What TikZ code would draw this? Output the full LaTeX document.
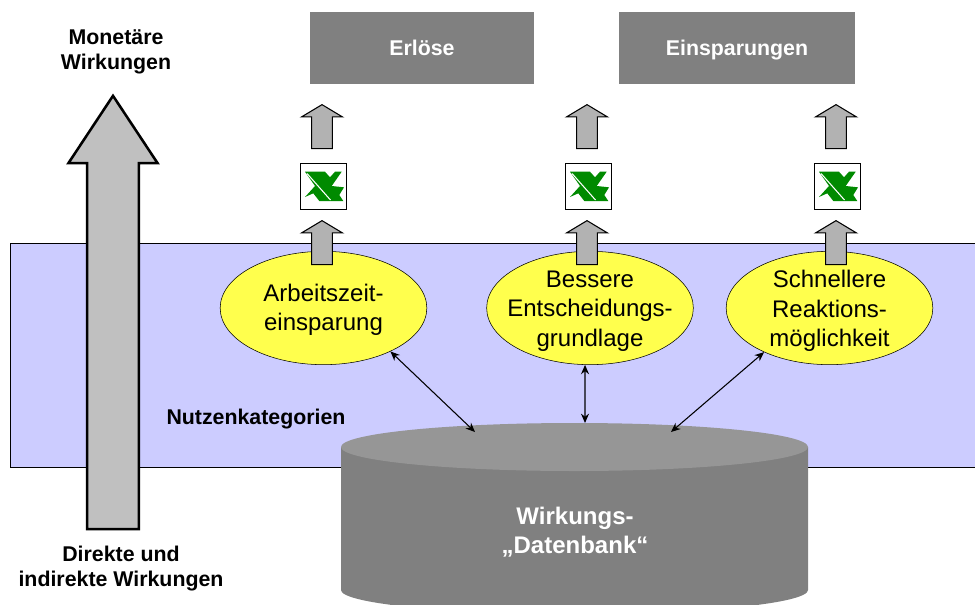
\documentclass[tikz,border=0pt]{standalone}
\usepackage{fontspec}
\setmainfont{Liberation Sans}
\usetikzlibrary{shapes.geometric,shapes.arrows,arrows.meta}
\definecolor{bandblue}{HTML}{CCCCFF}
\definecolor{boxgray}{HTML}{808080}
\definecolor{dbtopgray}{HTML}{969696}
\definecolor{arrowgray}{HTML}{B2B2B2}
\definecolor{biggray}{HTML}{C0C0C0}
\definecolor{ellyellow}{HTML}{FFFF4D}
\definecolor{excelgreen}{HTML}{008A00}

\begin{document}
\begin{tikzpicture}[
        x=0.75pt, y=-0.75pt,
        boxlabel/.style={
            fill=boxgray,
            text=white,
            minimum height=54pt, % 72 px in the source
            inner sep=0pt,
            text height=12pt,
            text depth=3pt,
            font=\fontsize{16}{19.5}\selectfont\bfseries
        },
        boldlabel/.style={
            align=center,
            inner sep=0pt,
            font=\fontsize{16}{19}\selectfont\bfseries
        },
        benefit/.style={
            ellipse,
            draw=black,
            fill=ellyellow,
            minimum width=155pt,
            minimum height=85pt,
            inner sep=0pt
        },
        benefittext/.style={
            align=center,
            inner sep=0pt,
            font=\fontsize{18}{22}\selectfont
        },
        uparrow/.style={
            single arrow,
            shape border rotate=90,
            draw=black,
            thick,
            fill=arrowgray,
            anchor=tip,
            inner sep=7.4pt,
            minimum height=33pt,
            minimum width=30pt,
            single arrow head extend=7.5pt,
            single arrow tip angle=118
        },
        iconbox/.style={
            draw=black,
            fill=white,
            minimum size=34.5pt,
            inner sep=0pt
        },
        link/.style={
            {Stealth[length=7pt,width=6pt]}-{Stealth[length=7pt,width=6pt]},
            line width=0.8pt
        }
    ]

\path[use as bounding box,clip] (0,0) rectangle (975,604);

% Band behind the categories
\node[draw=black,fill=bandblue,minimum width=735pt,minimum height=168pt,inner sep=0pt,anchor=north west] (band) at (10,243) {};
\node[boldlabel] (catlabel) at (256,419) {Nutzenkategorien};

% Big arrow on the left
\node[single arrow,shape border rotate=90,draw=black,line width=1.9pt,fill=biggray,anchor=tip,inner sep=18.5pt,
    minimum height=325pt,minimum width=65pt,single arrow head extend=14pt,single arrow tip angle=67] (bigarrow) at (113,93.5) {};
\node[boldlabel] (toplabel) at (116,52) {Monetäre\\Wirkungen};
\node[boldlabel] (bottomlabel) at (121,568.5) {Direkte und\\indirekte Wirkungen};

% Result boxes
\node[boxlabel,minimum width=168pt] (revenue) at (422,48) {\raisebox{-0.75pt}{Erlöse}};
\node[boxlabel,minimum width=177pt] (savings) at (737,48) {\raisebox{-0.75pt}{Einsparungen}};

% Categories
\node[benefit] (worktime) at (323.5,308) {};
\node[benefit] (decision) at (590,308) {};
\node[benefit] (reaction) at (829.5,308) {};
\node[benefittext] (worktimetext) at (323.5,310) {Arbeitszeit-\\einsparung};
\node[benefittext] (decisiontext) at (590,311) {Bessere\\Entscheidungs-\\grundlage};
\node[benefittext] (reactiontext) at (829.5,311) {Schnellere\\Reaktions-\\möglichkeit};

% Arrows and icons per column
\foreach \name/\xpos in {a/322,b/587,c/836} {
    \node[uparrow] (upper\name) at (\xpos,104) {};
    \node[iconbox] (icon\name) at (\xpos+1,186) {};
    \node[uparrow] (lower\name) at (\xpos,220) {};
    \fill[excelgreen,shift={(icon\name.center)}]
        (-18,-14.3) -- (2,-14.3) -- (7,-8.7) -- (12,-14.3) -- (18.7,-14.3) -- (8.7,0)
        -- (21,1.3) -- (16.3,9) -- (20.3,15) -- (-3.7,15) -- (-9.7,7.3) -- (-18,11) -- (-8,0) -- cycle;
    \draw[white,line width=0.8pt,shift={(icon\name.center)}] (-16,-12.5) -- (7.5,14);
}

% Database
\fill[boxgray] (341,447) -- (341,590) arc[start angle=180,end angle=360,x radius=233.5,y radius=-24] -- (808,447) -- cycle;
\node[ellipse,fill=dbtopgray,minimum width=350.25pt,minimum height=36pt,inner sep=0pt] (dbtop) at (574.5,447) {};
\node[align=center,text=white,inner sep=0pt,font=\fontsize{18}{22}\selectfont\bfseries] (dblabel) at (575,532) {Wirkungs-\\„Datenbank“};

% Links between categories and database
\coordinate (enda) at (475,432);
\coordinate (endb) at (585,423);
\coordinate (endc) at (671,432);
\draw[link] (worktime.-33) -- (enda);
\draw[link] (decision.-95) -- (endb);
\draw[link] (reaction.-146) -- (endc);

\end{tikzpicture}
\end{document}
